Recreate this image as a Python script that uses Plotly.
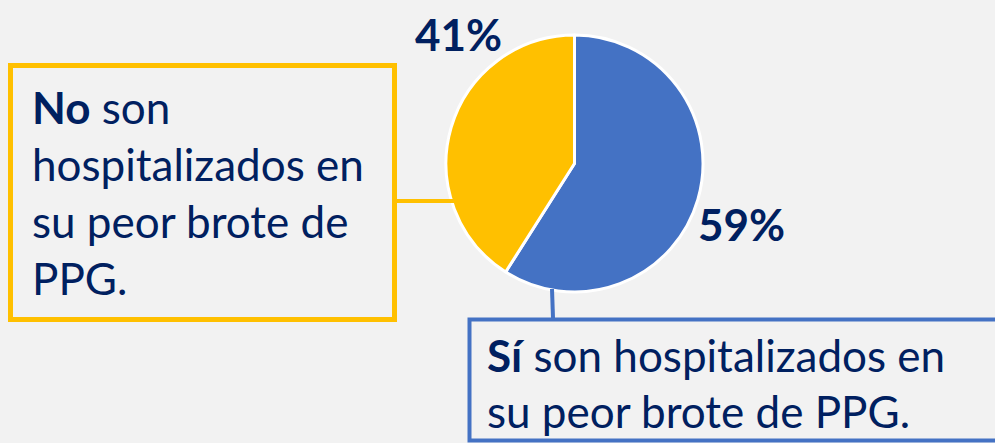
import plotly.graph_objects as go

categories = ["Sí son hospitalizados", "No son hospitalizados"]
values = [59, 41]
colors = ["#4472C4", "#FFC000"]
no_lines = ["<b>No</b> son", "hospitalizados en", "su peor brote de", "PPG."]
si_lines = ["<b>Sí</b> son hospitalizados en", "su peor brote de PPG."]

W, H = 995, 443
TEXT = "#002060"
FONT = "Lato"

def px(x):
    return x / W

def py(y):
    return 1 - y / H

fig = go.Figure()
fig.add_trace(go.Pie(
    labels=categories, values=values, sort=False, direction="clockwise",
    rotation=0, marker=dict(colors=colors, line=dict(color="white", width=3)),
    textinfo="none", hoverinfo="label+percent", showlegend=False,
    domain=dict(x=[px(446), px(703)], y=[py(292), py(35)]),
))

shapes = [
    dict(type="rect", xref="paper", yref="paper", x0=px(10.5), x1=px(394.5), y0=py(65.5), y1=py(319.5),
         line=dict(color="#FFC000", width=5), fillcolor="rgba(0,0,0,0)"),
    dict(type="line", xref="paper", yref="paper", x0=px(396), x1=px(456), y0=py(201), y1=py(201),
         line=dict(color="#FFC000", width=4)),
    dict(type="rect", xref="paper", yref="paper", x0=px(469.5), x1=px(1010), y0=py(319.5), y1=py(440.5),
         line=dict(color="#4472C4", width=4), fillcolor="rgba(0,0,0,0)"),
    dict(type="line", xref="paper", yref="paper", x0=px(552), x1=px(553), y0=py(289), y1=py(318),
         line=dict(color="#4472C4", width=4)),
]

annotations = []
for i, t in enumerate(no_lines):
    annotations.append(dict(text=t, xref="paper", yref="paper", x=px(30), y=py(107 + 57 * i),
                            xanchor="left", yanchor="middle", showarrow=False, align="left",
                            font=dict(family=FONT, size=44, color=TEXT)))
for i, t in enumerate(si_lines):
    annotations.append(dict(text=t, xref="paper", yref="paper", x=px(485), y=py(355 + 56 * i),
                            xanchor="left", yanchor="middle", showarrow=False, align="left",
                            font=dict(family=FONT, size=44, color=TEXT)))
pct_pos = [(741, 224), (458, 34)]
for v, (x, y) in zip(values, pct_pos):
    annotations.append(dict(text=f"<b>{v}%</b>", xref="paper", yref="paper", x=px(x), y=py(y),
                            xanchor="center", yanchor="middle", showarrow=False,
                            font=dict(family=FONT, size=44, color=TEXT)))

fig.update_layout(
    width=W, height=H, margin=dict(l=0, r=0, t=0, b=0),
    paper_bgcolor="#F2F2F2", plot_bgcolor="#F2F2F2",
    shapes=shapes, annotations=annotations,
)
fig.write_html("out.html", config={"displayModeBar": False},
               post_script="document.body.style.margin='0';document.body.style.overflow='hidden';document.body.style.background='#F2F2F2';")
